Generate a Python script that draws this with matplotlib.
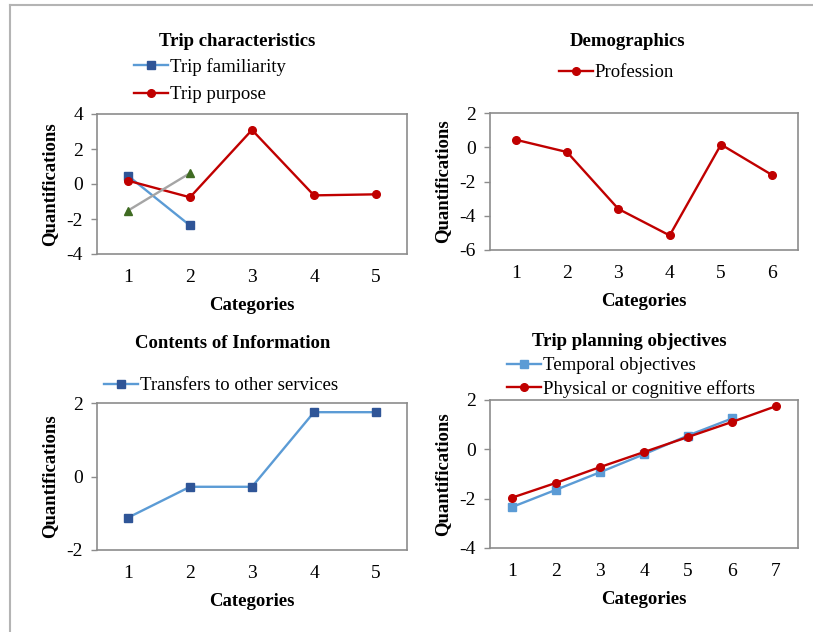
import matplotlib
matplotlib.use("Agg")
from matplotlib import pyplot
import matplotlib.ticker as ticker
from matplotlib.lines import Line2D

pyplot.rcParams['font.family'] = ['Liberation Serif', 'DejaVu Serif']
pyplot.rcParams['axes.unicode_minus'] = False

# Trip characteristics
trip_fam_x = [1, 2]
trip_fam_y = [0.47, -2.37]
trip_purp_x = [1, 2, 3, 4, 5]
trip_purp_y = [0.19, -0.76, 3.09, -0.65, -0.59]
trip_other_x = [1, 2]
trip_other_y = [-1.52, 0.62]

# Demographics
prof_x = [1, 2, 3, 4, 5, 6]
prof_y = [0.44, -0.28, -3.6, -5.15, 0.16, -1.63]

# Contents of Information
transf_x = [1, 2, 3, 4, 5]
transf_y = [-1.12, -0.28, -0.28, 1.75, 1.75]

# Trip planning objectives
temp_x = [1, 2, 3, 4, 5, 6]
temp_y = [-2.34, -1.64, -0.93, -0.2, 0.56, 1.25]
phys_x = [1, 2, 3, 4, 5, 6, 7]
phys_y = [-1.96, -1.36, -0.72, -0.11, 0.5, 1.11, 1.75]

LBLUE = '#5b9bd5'
DBLUE = '#2f5597'
RED = '#c00000'
GRAY = '#a5a5a5'
GREEN = '#3f6b22'
SPINE = '#8c8c8c'

TITLE_FS = 13.5
LEG_FS = 13.5
TICK_FS = 14
LAB_FS = 13.5
LW = 1.7
MS = 5.5

fig = pyplot.figure(figsize=(8.13, 6.32), dpi=100)

# рамка вокруг рисунка (сверху и слева)
fig.add_artist(Line2D([9.5 / 813, 1.0], [1 - 5 / 632, 1 - 5 / 632], color='#b4b4b4', lw=1.5))
fig.add_artist(Line2D([9.5 / 813, 9.5 / 813], [0, 1 - 5 / 632], color='#b4b4b4', lw=1.5))


def make_axes(rect, ncat, ylim, ystep):
    ax = fig.add_axes(rect)
    ax.set_xlim(0.5, ncat + 0.5)
    ax.set_ylim(*ylim)
    ax.xaxis.set_major_locator(ticker.MultipleLocator(1))
    ax.yaxis.set_major_locator(ticker.MultipleLocator(ystep))
    for s in ax.spines.values():
        s.set_color(SPINE)
        s.set_linewidth(1.2)
    ax.tick_params(axis='x', length=0, pad=11, labelsize=TICK_FS)
    ax.tick_params(axis='y', length=4, width=1, color=SPINE, pad=6, labelsize=TICK_FS)
    ax.set_ylabel('Quantifications', fontsize=LAB_FS, fontweight='bold', labelpad=6)
    ax.set_xlabel('Categories', fontsize=LAB_FS, fontweight='bold', labelpad=7.5)
    return ax


def add_legend(handles, x, y, spacing=0.5):
    fig.legend(handles=handles, loc='upper left', bbox_to_anchor=(x / 813, 1 - y / 632),
               frameon=False, fontsize=LEG_FS, borderpad=0, borderaxespad=0,
               handlelength=1.8, handletextpad=0.1, labelspacing=spacing)


# верхний левый график
ax1 = make_axes([97 / 813, 1 - 254 / 632, 310 / 813, 140 / 632], 5, (-4, 4), 2)
l1, = ax1.plot(trip_fam_x, trip_fam_y, color=LBLUE, lw=LW, marker='s', ms=MS,
               mfc=DBLUE, mec=DBLUE, label='Trip familiarity')
l2, = ax1.plot(trip_purp_x, trip_purp_y, color=RED, lw=LW, marker='o', ms=MS,
               mfc=RED, mec=RED, label='Trip purpose')
ax1.plot(trip_other_x, trip_other_y, color=GRAY, lw=LW, marker='^', ms=6,
         mfc=GREEN, mec=GREEN)
fig.text(237 / 813, 1 - 42 / 632, 'Trip characteristics', fontsize=TITLE_FS, fontweight='bold',
         ha='center', va='center')
add_legend([l1, l2], 134, 58, spacing=0.55)

# верхний правый график
ax2 = make_axes([490 / 813, 1 - 250 / 632, 308 / 813, 137 / 632], 6, (-6, 2), 2)
l3, = ax2.plot(prof_x, prof_y, color=RED, lw=LW, marker='o', ms=MS,
               mfc=RED, mec=RED, label='Profession')
fig.text(628 / 813, 1 - 41 / 632, 'Demographics', fontsize=TITLE_FS, fontweight='bold',
         ha='center', va='center')
add_legend([l3], 559, 64)

# нижний левый график
ax3 = make_axes([97 / 813, 1 - 550 / 632, 310 / 813, 147 / 632], 5, (-2, 2), 2)
l4, = ax3.plot(transf_x, transf_y, color=LBLUE, lw=LW, marker='s', ms=MS,
               mfc=DBLUE, mec=DBLUE, label='Transfers to other services')
fig.text(233 / 813, 1 - 343 / 632, 'Contents of Information', fontsize=TITLE_FS,
         fontweight='bold', ha='center', va='center')
add_legend([l4], 104, 377)

# нижний правый график
ax4 = make_axes([490 / 813, 1 - 548 / 632, 308 / 813, 148 / 632], 7, (-4, 2), 2)
l5, = ax4.plot(temp_x, temp_y, color=LBLUE, lw=LW, marker='s', ms=MS,
               mfc=LBLUE, mec=LBLUE, label='Temporal objectives')
l6, = ax4.plot(phys_x, phys_y, color=RED, lw=LW, marker='o', ms=MS,
               mfc=RED, mec=RED, label='Physical or cognitive efforts')
fig.text(629 / 813, 1 - 342 / 632, 'Trip planning objectives', fontsize=TITLE_FS,
         fontweight='bold', ha='center', va='center')
add_legend([l5, l6], 507, 357, spacing=0.3)

fig.savefig('out.png', dpi=100)
